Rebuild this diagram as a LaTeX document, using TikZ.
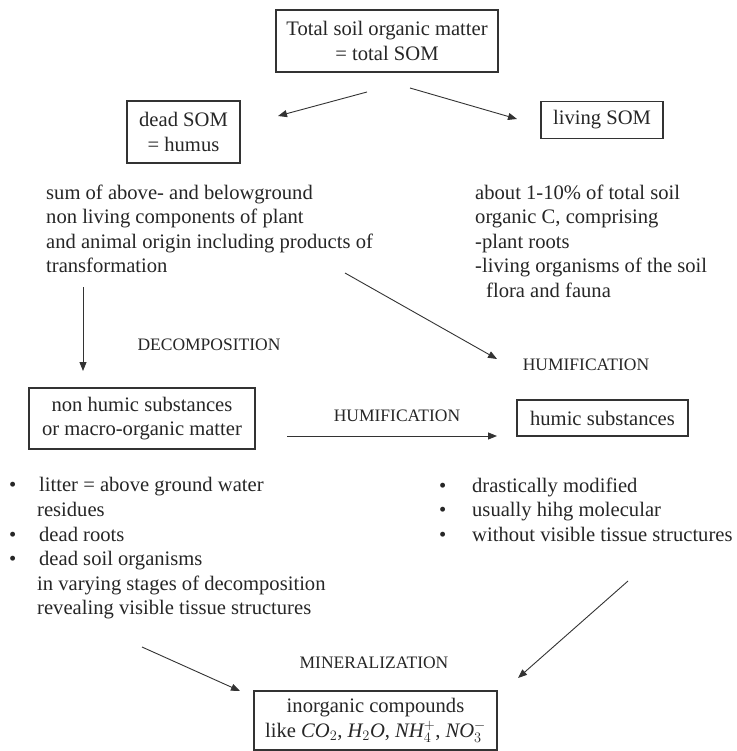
\documentclass[tikz,border=0pt]{standalone}
\usepackage{fontspec}
\setmainfont{Liberation Serif}
\usetikzlibrary{arrows.meta}
\definecolor{ink}{HTML}{262626}
\definecolor{rule}{HTML}{333333}

\begin{document}
\begin{tikzpicture}[x=1pt,y=-1pt,
  every node/.style={text=ink, inner sep=0pt, font=\fontsize{20.6}{24.5}\selectfont},
  box/.style={draw=rule, line width=1.3pt, align=center},
  lbl/.style={font=\fontsize{17.5}{20}\selectfont},
  para/.style={align=left, anchor=north west},
  arr/.style={draw=rule, line width=0.9pt, -{Triangle[length=9pt,width=7pt]}}
]
% canvas
\fill[white] (0,0) rectangle (736,751);
\useasboundingbox (0,0) rectangle (736,751);

% boxed quantities
\node[box, minimum width=222pt, minimum height=62pt] (total) at (387,41)
  {Total soil organic matter\\= total SOM};
\node[box, minimum width=113pt, minimum height=62pt] (dead) at (183.5,132)
  {dead SOM\\= humus};
\node[box, minimum width=122pt, minimum height=37pt] (living) at (602,120)
  {living SOM};
\node[box, minimum width=226pt, minimum height=61pt] (nonhumic) at (142,418.5)
  {non humic substances\\or macro-organic matter};
\node[box, minimum width=171pt, minimum height=36pt] (humic) at (602.5,418)
  {humic substances};
\node[box, minimum width=243pt, minimum height=59pt] (inorg) at (375.5,720.5)
  {inorganic compounds\\like $\textit{CO}_2$, $\textit{H}_2\textit{O}$, $\textit{NH}_4^+$, $\textit{NO}_3^-$};

% descriptions
\node[para] (deadtxt) at (46,184.5)
  {sum of above- and belowground\\non living components of plant\\and animal origin including products of\\transformation};
\node[para] (livetxt) at (475,184.5)
  {about 1-10\% of total soil\\organic C, comprising\\-plant roots\\-living organisms of the soil\\\hspace*{11pt}flora and fauna};
\node[para] (nonlist) at (9,477.5)
  {\makebox[30pt][l]{•}litter = above ground water\\
   \hspace*{28pt}residues\\
   \makebox[30pt][l]{•}dead roots\\
   \makebox[30pt][l]{•}dead soil organisms\\
   \hspace*{28pt}in varying stages of decomposition\\
   \hspace*{28pt}revealing visible tissue structures};
\node[para] (humlist) at (439,477.5)
  {\makebox[33pt][l]{•}drastically modified\\
   \makebox[33pt][l]{•}usually hihg molecular\\
   \makebox[33pt][l]{•}without visible tissue structures};

% process labels
\node[lbl] (decomp) at (209,345) {DECOMPOSITION};
\node[lbl] (humif1) at (586,365) {HUMIFICATION};
\node[lbl] (humif2) at (397,416) {HUMIFICATION};
\node[lbl] (miner)  at (374,663) {MINERALIZATION};

% arrow end points
\coordinate (t1) at (367,92);   \coordinate (t1e) at (278,116);
\coordinate (t2) at (410,88);   \coordinate (t2e) at (517,119);
\coordinate (d1) at (83,287);   \coordinate (d1e) at (83,371);
\coordinate (d2) at (345,273);  \coordinate (d2e) at (497,359);
\coordinate (h1) at (287,436);  \coordinate (h1e) at (497,436);
\coordinate (m1) at (142,647);  \coordinate (m1e) at (240,691);
\coordinate (m2) at (628,581);  \coordinate (m2e) at (518,678);

\draw[arr] (t1) -- (t1e);
\draw[arr] (t2) -- (t2e);
\draw[arr] (d1) -- (d1e);
\draw[arr] (d2) -- (d2e);
\draw[arr] (h1) -- (h1e);
\draw[arr] (m1) -- (m1e);
\draw[arr] (m2) -- (m2e);
\end{tikzpicture}
\end{document}
